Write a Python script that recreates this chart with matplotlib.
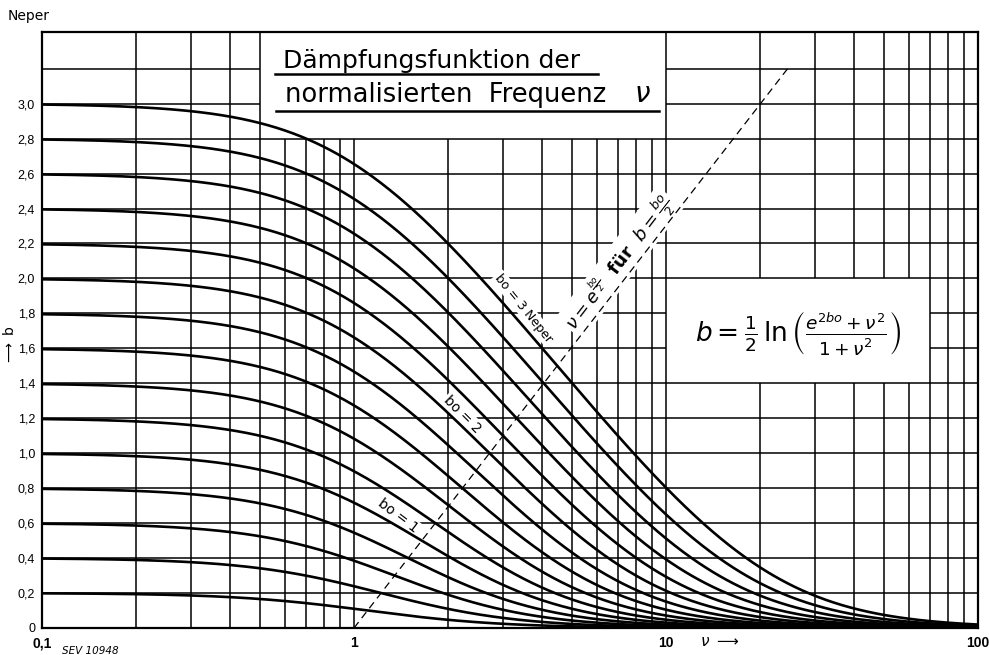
import numpy as np
import matplotlib
matplotlib.use("Agg")
import matplotlib.pyplot as plt

# ---- data ----
b0_values = [0.2, 0.4, 0.6, 0.8, 1.0, 1.2, 1.4, 1.6, 1.8, 2.0,
             2.2, 2.4, 2.6, 2.8, 3.0]
ytick_values = [0.0, 0.2, 0.4, 0.6, 0.8, 1.0, 1.2, 1.4, 1.6, 1.8,
                2.0, 2.2, 2.4, 2.6, 2.8, 3.0]
ytick_labels = ["0", "0,2", "0,4", "0,6", "0,8", "1,0", "1,2", "1,4", "1,6",
                "1,8", "2,0", "2,2", "2,4", "2,6", "2,8", "3,0"]
xtick_values = [0.1, 1, 10, 100]
xtick_labels = ["0,1", "1", "10", "100"]
dashed_b_range = [0.0, 3.2]          # line nu = e^(b0/2) for b = b0/2
curve_labels = [("bo = 3 Neper", 3.5, 1.83, -51, 9),
                ("bo = 2", 2.22, 1.22, -45, 10),
                ("bo = 1", 1.38, 0.64, -37, 10)]

# ---- layout ----
YTOP = 3.41
TITLE_BOX = (0.5, 10, 2.8)        # x0, x1, y0 (to top)
FORMULA_BOX = (10, 70, 1.4, 2.0)  # x0, x1, y0, y1

fig = plt.figure(figsize=(9.89, 6.55), dpi=100)
ax = fig.add_axes([42 / 989, 27 / 655, 936 / 989, 596 / 655])
ax.set_xscale("log")
ax.set_xlim(0.1, 100)
ax.set_ylim(0, YTOP)

GRID_KW = dict(color="black", lw=1.1, zorder=1)

# vertical grid lines
vx = [m * 10.0 ** e for e in (-1, 0, 1) for m in range(2, 10)] + [1, 10]
for x in vx:
    if TITLE_BOX[0] < x < TITLE_BOX[1] - 1e-9:
        segs = [(0, TITLE_BOX[2])]
    elif FORMULA_BOX[0] + 1e-9 < x < FORMULA_BOX[1] - 1e-9:
        segs = [(0, FORMULA_BOX[2]), (FORMULA_BOX[3], YTOP)]
    else:
        segs = [(0, YTOP)]
    for y0, y1 in segs:
        ax.vlines(x, y0, y1, **GRID_KW)

# horizontal grid lines
hy = [round(0.2 * i, 1) for i in range(1, 17)]
for y in hy:
    if y > TITLE_BOX[2] + 1e-9:
        segs = [(0.1, TITLE_BOX[0]), (TITLE_BOX[1], 100)]
    elif FORMULA_BOX[2] + 1e-9 < y < FORMULA_BOX[3] - 1e-9:
        segs = [(0.1, FORMULA_BOX[0]), (FORMULA_BOX[1], 100)]
    else:
        segs = [(0.1, 100)]
    for x0, x1 in segs:
        ax.hlines(y, x0, x1, **GRID_KW)

# curves
v = np.logspace(-1, 2, 800)
for b0 in b0_values:
    b = 0.5 * np.log((np.exp(2 * b0) + v ** 2) / (1 + v ** 2))
    ax.plot(v, b, color="black", lw=1.9, zorder=3, solid_capstyle="butt")

# dashed line b = ln(nu)
bd = np.array(dashed_b_range)
ax.plot(np.exp(bd), bd, color="black", lw=0.9, ls=(0, (6, 4)), zorder=2.6)

for spine in ax.spines.values():
    spine.set_linewidth(1.6)
    spine.set_zorder(4)

ax.set_yticks(ytick_values)
ax.set_yticklabels(ytick_labels, fontsize=9, family="Liberation Sans")
ax.set_xticks(xtick_values)
ax.set_xticklabels(xtick_labels, fontsize=10, fontweight="bold",
                   family="Liberation Sans")
ax.xaxis.set_minor_locator(matplotlib.ticker.NullLocator())
ax.tick_params(axis="both", which="both", length=0)
ax.tick_params(axis="y", pad=5)
ax.tick_params(axis="x", pad=6)

# curve labels
for txt, xv, yv, rot, fs in curve_labels:
    ax.text(xv, yv, txt, rotation=rot, fontsize=fs, ha="center", va="center",
            zorder=2.5, rotation_mode="anchor",
            bbox=dict(facecolor="white", edgecolor="none", pad=1.0))

# dashed line label
ax.text(7.1, 2.09, r"$\nu = e^{\frac{bo}{2}}$  für  $b = \frac{bo}{2}$",
        rotation=52.5, rotation_mode="anchor", fontsize=13, fontweight="bold",
        ha="center", va="center", zorder=2.5,
        bbox=dict(facecolor="white", edgecolor="none", pad=1.5))

# formula
ax.text(26.5, 1.69,
        r"$b = \frac{1}{2}\,\ln\left(\frac{e^{2bo}+\nu^2}{1+\nu^2}\right)$",
        fontsize=19, ha="center", va="center", zorder=5)

# title with underlines
ax.text(0.2575, 0.9396, "Dämpfungsfunktion der", transform=ax.transAxes,
        fontsize=18, ha="left", va="baseline", zorder=5)
ax.text(0.2596, 0.8826, "normalisierten  Frequenz", transform=ax.transAxes,
        fontsize=18.5, ha="left", va="baseline", zorder=5)
ax.text(0.632, 0.8826, r"$\nu$", transform=ax.transAxes,
        fontsize=20, ha="left", va="baseline", zorder=5)
ax.plot([0.249, 0.594], [0.929, 0.929], transform=ax.transAxes, color="black",
        lw=1.8, zorder=5, clip_on=False)
ax.plot([0.250, 0.659], [0.868, 0.868], transform=ax.transAxes, color="black",
        lw=1.8, zorder=5, clip_on=False)

# extra texts
fig.text(8 / 989, 1 - 16 / 655, "Neper", fontsize=10, ha="left", va="center")
fig.text(9 / 989, 1 - 345 / 655, r"$\longrightarrow$ b", rotation=90,
         fontsize=10, ha="center", va="center")
fig.text(700 / 989, 1 - 641 / 655, r"$\nu$ $\longrightarrow$", fontsize=11,
         ha="left", va="center", fontweight="bold")
fig.text(62 / 989, 1 - 651 / 655, "SEV 10948", fontsize=7.5, style="italic",
         ha="left", va="center")

fig.savefig("out.png", dpi=100, facecolor="white")
